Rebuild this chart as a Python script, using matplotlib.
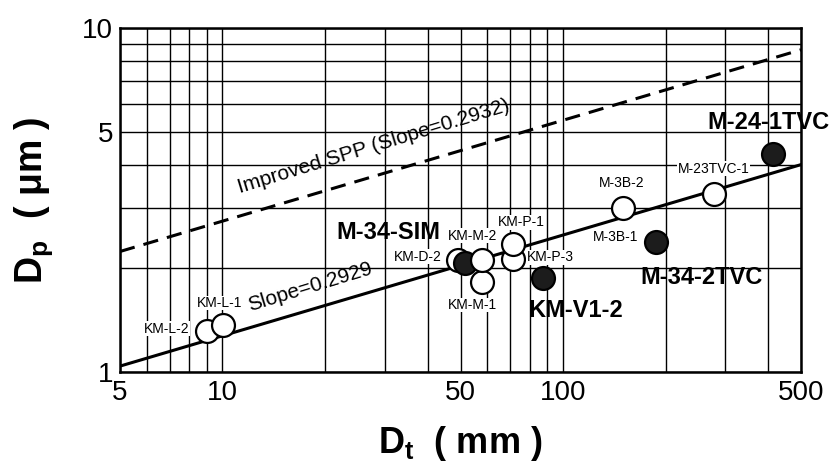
import numpy as np
import matplotlib
matplotlib.use('Agg')
import matplotlib.pyplot as plt
from matplotlib.ticker import FixedLocator, NullFormatter

plt.rcParams['font.family'] = ['Liberation Sans', 'DejaVu Sans']
plt.rcParams['mathtext.fontset'] = 'custom'
plt.rcParams['mathtext.rm'] = 'Liberation Sans'
plt.rcParams['mathtext.bf'] = 'Liberation Sans:bold'
plt.rcParams['mathtext.default'] = 'bf'

# Tank diameter Dt (mm) vs. particle diameter Dp (um)
names = ['KM-L-2', 'KM-L-1', 'KM-D-2', 'M-34-SIM', 'KM-M-1', 'KM-M-2',
         'KM-P-3', 'KM-P-1', 'KM-V1-2', 'M-3B-2', 'M-3B-1', 'M-23TVC-1',
         'M-24-1TVC']
dt = [8.99, 10.06, 49.3, 51.6, 57.7, 57.7, 71.1, 71.1, 87.3, 150.5, 187.9,
      277.0, 415.0]
dp = [1.32, 1.37, 2.12, 2.07, 1.83, 2.12, 2.13, 2.35, 1.87, 2.99, 2.38,
      3.29, 4.30]
filled = [False, False, False, True, False, False, False, False, True,
          False, True, False, True]

# power-law fits Dp = a * (Dt / 5) ** slope
fit_slope, fit_a = 0.2929, 1.04
spp_slope, spp_a = 0.2932, 2.24

x_ticks = [5, 10, 50, 100, 500]
y_ticks = [1, 5, 10]

# label text for each point: (text, point name, offset in points, ha, big)
labels = [
    ('KM-L-2', 'KM-L-2', (-12.7, 1.4), 'right', False),
    ('KM-L-1', 'KM-L-1', (-2.4, 15.8), 'center', False),
    ('KM-D-2', 'KM-D-2', (-11.7, 2.2), 'right', False),
    ('M-34-SIM', 'M-34-SIM', (-18, 22.5), 'right', True),
    ('KM-M-2', 'KM-M-2', (-6.3, 17.3), 'center', False),
    ('KM-M-1', 'KM-M-1', (-7, -16.8), 'center', False),
    ('KM-P-1', 'KM-P-1', (6, 16), 'center', False),
    ('KM-P-3', 'KM-P-3', (10.3, 1.2), 'left', False),
    ('KM-V1-2', 'KM-V1-2', (-10.6, -22.8), 'left', True),
    ('M-3B-2', 'M-3B-2', (-1, 18.2), 'center', False),
    ('M-3B-1', 'M-3B-1', (-13, 4.1), 'right', False),
    ('M-34-2TVC', 'M-3B-1', (-11.5, -25.4), 'left', True),
    ('M-23TVC-1', 'M-23TVC-1', (0, 18.2), 'center', False),
    ('M-24-1TVC', 'M-24-1TVC', (-47.7, 23), 'left', True),
]

fig = plt.figure(figsize=(8.35, 4.72), dpi=100)
ax = fig.add_axes([0.1437, 0.2119, 0.8156, 0.7288])
ax.set_xscale('log')
ax.set_yscale('log')
ax.set_xlim(5, 500)
ax.set_ylim(1, 10)

# graph-paper grid
ax.xaxis.set_major_locator(FixedLocator(x_ticks))
ax.yaxis.set_major_locator(FixedLocator(y_ticks))
ax.xaxis.set_minor_locator(FixedLocator(
    [6, 7, 8, 9, 20, 30, 40, 60, 70, 80, 90, 200, 300, 400]))
ax.yaxis.set_minor_locator(FixedLocator([2, 3, 4, 6, 7, 8, 9]))
ax.xaxis.set_minor_formatter(NullFormatter())
ax.yaxis.set_minor_formatter(NullFormatter())
ax.set_xticklabels([str(v) for v in x_ticks])
ax.set_yticklabels([str(v) for v in y_ticks])
ax.grid(True, which='both', color='black', linewidth=1.0)
ax.set_axisbelow(True)
ax.tick_params(which='both', length=0, labelsize=20)
ax.tick_params(axis='x', pad=6)
ax.tick_params(axis='y', pad=5)
for s in ax.spines.values():
    s.set_linewidth(1.8)

xs = np.array([5, 500])
ax.plot(xs, fit_a * (xs / 5) ** fit_slope, color='black', lw=2.2, zorder=3)
ax.plot(xs, spp_a * (xs / 5) ** spp_slope, color='black', lw=2.2,
        dashes=(5, 3), zorder=3)

ax.text(12.0, 1.50, 'Slope=0.2929', rotation=17, rotation_mode='anchor',
        ha='left', va='baseline', fontsize=15)
ax.text(11.25, 3.31, 'Improved SPP (Slope=0.2932)', rotation=17,
        rotation_mode='anchor', ha='left', va='baseline', fontsize=15)

for x, y, f in zip(dt, dp, filled):
    ax.plot(x, y, 'o', ms=16.5, mew=1.6, mec='black',
            mfc='#1c1c1c' if f else 'white', zorder=4)

pos = dict(zip(names, zip(dt, dp)))
for text, key, off, ha, big in labels:
    ax.annotate(text, pos[key], xytext=off, textcoords='offset points',
                ha=ha, va='center', annotation_clip=False,
                fontsize=17 if big else 10,
                fontweight='bold' if big else 'normal', zorder=5,
                bbox=None if big else dict(fc='white', ec='none', pad=0.3))

ax.set_xlabel('D$_t$  ( mm )', fontsize=26, fontweight='bold', va='top')
ax.set_ylabel('D$_p$  ( μm )', fontsize=27, fontweight='bold')
ax.xaxis.set_label_coords(0.5, -0.15)
ax.yaxis.set_label_coords(-0.095, 0.5)

fig.savefig('out.png', dpi=100)
